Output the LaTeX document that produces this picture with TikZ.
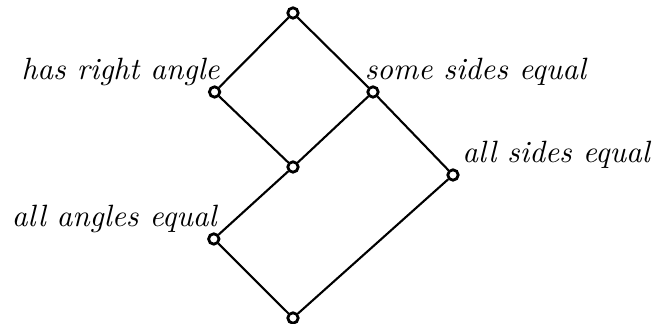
\documentclass[tikz,border=0pt]{standalone}
\usepackage{tikz}
\usetikzlibrary{positioning, calc}

\begin{document}
\begin{tikzpicture}[
    vertex/.style={circle, draw, fill=white, inner sep=0pt, minimum size=0.13cm, line width=1pt},
    lbl/.style={inner sep=0pt, font=\fontsize{10.95}{13.6}\selectfont\itshape},
    edge/.style={line width=0.75pt}
]
    \useasboundingbox (-3.6625,-0.075) rectangle (4.5,3.975);

    % Lattice elements
    \node[vertex] (top) at (0,3.8125) {};
    \node[vertex] (rightangle) at (-0.98,2.825) {};
    \node[vertex] (somesides) at (1,2.825) {};
    \node[vertex] (middle) at (0,1.8875) {};
    \node[vertex] (allsides) at (2,1.7875) {};
    \node[vertex] (allangles) at (-0.99,0.9875) {};
    \node[vertex] (bottom) at (0,0) {};

    % Labels
    \node[lbl, anchor=base east] (rightanglelbl) at ($(rightangle)+(0.07,0.15)$) {has right angle};
    \node[lbl, anchor=base west] (somesideslbl) at ($(somesides)+(-0.11,0.15)$) {some sides equal};
    \node[lbl, anchor=base west] (allsideslbl) at ($(allsides)+(0.11,0.15)$) {all sides equal};
    \node[lbl, anchor=base east] (allangleslbl) at ($(allangles)+(0.04,0.15)$) {all angles equal};

    % Covering relations
    \draw[edge] (top) -- (rightangle);
    \draw[edge] (top) -- (somesides);
    \draw[edge] (rightangle) -- (middle);
    \draw[edge] (somesides) -- (middle);
    \draw[edge] (somesides) -- (allsides);
    \draw[edge] (middle) -- (allangles);
    \draw[edge] (allangles) -- (bottom);
    \draw[edge] (allsides) -- (bottom);

\end{tikzpicture}
\end{document}
